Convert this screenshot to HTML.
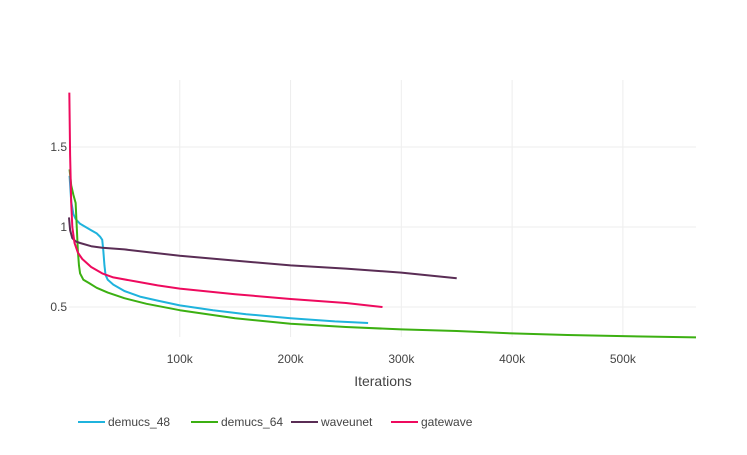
<!DOCTYPE html>
<html><head><meta charset="utf-8"><style>
body{margin:0;background:#fff;font-family:"Liberation Sans",sans-serif;}
svg text{font-family:"Liberation Sans",sans-serif;fill:#444;}
</style></head><body>
<svg id="chart" width="747" height="450" xmlns="http://www.w3.org/2000/svg">
<g id="grid"></g>
<g id="series"></g>
<g id="axes"></g>
<text x="383" y="386" text-anchor="middle" font-size="14">Iterations</text>
<g id="legend"></g>
</svg>
<script>
const xTicks=[100,200,300,400,500];
const xTickLabels=["100k","200k","300k","400k","500k"];
const yTicks=[0.5,1,1.5];
const yTickLabels=["0.5","1","1.5"];
const seriesNames=["demucs_48","demucs_64","waveunet","gatewave"];
const seriesColors=["#1fb3dd","#3cb012","#5a2d55","#ee0a5e"];
const d48x=[0.5,2,4,6,10,15,20,25,28,30,31,32,33,35,40,50,64,80,100,130,160,200,240,270];
const d48y=[1.32,1.16,1.08,1.05,1.02,1.00,0.98,0.96,0.94,0.92,0.85,0.76,0.70,0.67,0.64,0.60,0.565,0.54,0.51,0.48,0.455,0.43,0.41,0.40];
const d64x=[0.5,2,4,6,7,8,9,10,13,18,25,35,50,70,100,150,200,250,300,350,400,450,500,566];
const d64y=[1.36,1.26,1.20,1.15,1.0,0.85,0.76,0.71,0.67,0.65,0.62,0.59,0.555,0.52,0.48,0.43,0.395,0.375,0.36,0.35,0.335,0.325,0.318,0.31];
const wux=[0,1,3,6,10,20,30,50,75,100,150,200,250,300,350];
const wuy=[1.06,0.98,0.93,0.91,0.90,0.88,0.87,0.86,0.84,0.82,0.79,0.76,0.74,0.715,0.68];
const gwx=[0.3,1,2,3,5,8,12,20,30,40,60,80,100,150,200,250,283];
const gwy=[1.84,1.45,1.15,1.00,0.90,0.84,0.80,0.75,0.71,0.685,0.66,0.635,0.615,0.58,0.55,0.525,0.50];
const seriesX=[d48x,d64x,wux,gwx];
const seriesY=[d48y,d64y,wuy,gwy];
const ns="http://www.w3.org/2000/svg";
const X0=69,XW=627,XMAX=566,Y0=337,YT=80;
function sx(v){return X0+v*(XW/XMAX);}
function sy(v){return 227-(v-1)*160;}
const grid=document.getElementById('grid'),axes=document.getElementById('axes');
xTicks.forEach((t,i)=>{
 const l=document.createElementNS(ns,'line');
 l.setAttribute('x1',sx(t));l.setAttribute('x2',sx(t));l.setAttribute('y1',YT);l.setAttribute('y2',Y0);
 l.setAttribute('stroke','#eee');
 
 
 grid.appendChild(l);
 const tx=document.createElementNS(ns,'text');
 tx.setAttribute('x',sx(t));tx.setAttribute('y',363);tx.setAttribute('text-anchor','middle');tx.setAttribute('font-size','12');
 tx.textContent=xTickLabels[i];
 
 
 axes.appendChild(tx);
});
yTicks.forEach((t,i)=>{
 const l=document.createElementNS(ns,'line');
 l.setAttribute('x1',X0);l.setAttribute('x2',X0+XW);l.setAttribute('y1',sy(t));l.setAttribute('y2',sy(t));
 l.setAttribute('stroke','#eee');
 
 
 grid.appendChild(l);
 const tx=document.createElementNS(ns,'text');
 tx.setAttribute('x',67);tx.setAttribute('y',sy(t)+4);tx.setAttribute('text-anchor','end');tx.setAttribute('font-size','12');
 tx.textContent=yTickLabels[i];
 
 
 axes.appendChild(tx);
});
const sg=document.getElementById('series'),lg=document.getElementById('legend');
const legX=[78,191,291,391];
seriesNames.forEach((n,i)=>{
 const p=document.createElementNS(ns,'polyline');
 p.setAttribute('points',seriesX[i].map((x,j)=>sx(x)+','+sy(seriesY[i][j])).join(' '));
 p.setAttribute('fill','none');p.setAttribute('stroke',seriesColors[i]);p.setAttribute('stroke-width','2');
 p.setAttribute('stroke-linejoin','round');
 
 
 sg.appendChild(p);
 const g=document.createElementNS(ns,'g');
 
 
 const l=document.createElementNS(ns,'line');
 l.setAttribute('x1',legX[i]);l.setAttribute('x2',legX[i]+27);l.setAttribute('y1',422);l.setAttribute('y2',422);
 l.setAttribute('stroke',seriesColors[i]);l.setAttribute('stroke-width','2');
 g.appendChild(l);
 const t=document.createElementNS(ns,'text');
 t.setAttribute('x',legX[i]+30);t.setAttribute('y',426);t.setAttribute('font-size','12');
 t.textContent=n;
 g.appendChild(t);
 lg.appendChild(g);
});
</script>
</body></html>
